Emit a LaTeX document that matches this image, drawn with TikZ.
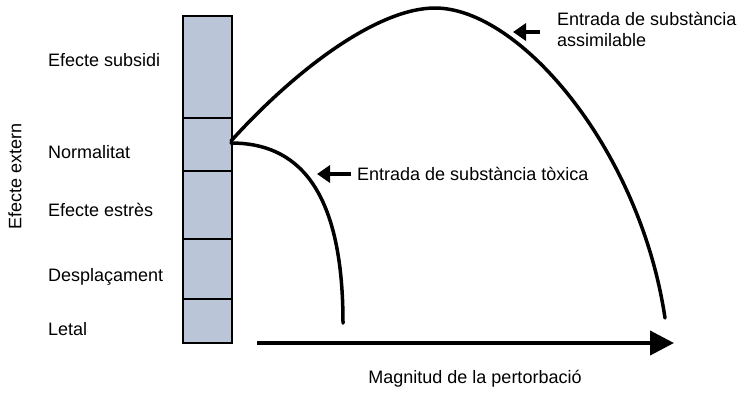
\documentclass[tikz,border=0pt]{standalone}
\usepackage{fontspec}
\setmainfont{Liberation Sans}
\usetikzlibrary{arrows.meta}
\definecolor{barfill}{HTML}{BAC6D8}
\begin{document}
\begin{tikzpicture}[x=1pt,y=-1pt,
  lbl/.style={font=\fontsize{18}{21}\selectfont, inner sep=0pt},
  curve/.style={line width=3.5pt, line cap=round},
  bigarrow/.style={line width=4pt, -{Triangle[length=24pt,width=24pt]}},
  smallarrow/.style={line width=4pt, -{Triangle[length=13pt,width=17pt]}},
  divider/.style={line width=2pt}]
\useasboundingbox (0,0) rectangle (744,392);
% bar
\node[draw, line width=2pt, fill=barfill, minimum width=49pt, minimum height=327pt, inner sep=0pt, anchor=north west] (bar) at (182,15) {};
\coordinate (d1l) at (182,118); \coordinate (d1r) at (231,118);
\coordinate (d2l) at (182,171); \coordinate (d2r) at (231,171);
\coordinate (d3l) at (182,239); \coordinate (d3r) at (231,239);
\coordinate (d4l) at (182,299); \coordinate (d4r) at (231,299);
\draw[divider] (d1l) -- (d1r);
\draw[divider] (d2l) -- (d2r);
\draw[divider] (d3l) -- (d3r);
\draw[divider] (d4l) -- (d4r);
% labels
\node[lbl, anchor=west] (subsidi) at (48,60) {Efecte subsidi};
\node[lbl, anchor=west] (normal) at (48,152) {Normalitat};
\node[lbl, anchor=west] (estres) at (48,210) {Efecte estrès};
\node[lbl, anchor=west] (despl) at (48,277) {Desplaçament};
\node[lbl, anchor=west] (letal) at (48,329) {Letal};
\node[lbl, rotate=90] (extern) at (15,176) {Efecte extern};
% curves
\coordinate (s1) at (231,141);
\coordinate (peak) at (435,8);
\coordinate (e1) at (665,318);
\draw[curve] (s1) .. controls (300,65) and (380,8) .. (peak)
  .. controls (520,8) and (640,150) .. (e1);
\coordinate (s2) at (231,143);
\coordinate (e2) at (343,323);
\draw[curve] (s2) .. controls (295,143) and (343,185) .. (e2);
% axis arrow
\coordinate (ax1) at (257,343);
\coordinate (ax2) at (674,343);
\draw[bigarrow] (ax1) -- (ax2);
\node[lbl] (magn) at (475,379) {Magnitud de la pertorbació};
% side arrows
\coordinate (t1) at (351,174); \coordinate (t2) at (317,174);
\draw[smallarrow] (t1) -- (t2);
\node[lbl, anchor=west] (toxica) at (357,174) {Entrada de substància tòxica};
\coordinate (a1) at (540,32); \coordinate (a2) at (513,32);
\draw[smallarrow] (a1) -- (a2);
\node[lbl, anchor=north west, align=left] (assim) at (557,12) {Entrada de substància\\assimilable};
\end{tikzpicture}
\end{document}
